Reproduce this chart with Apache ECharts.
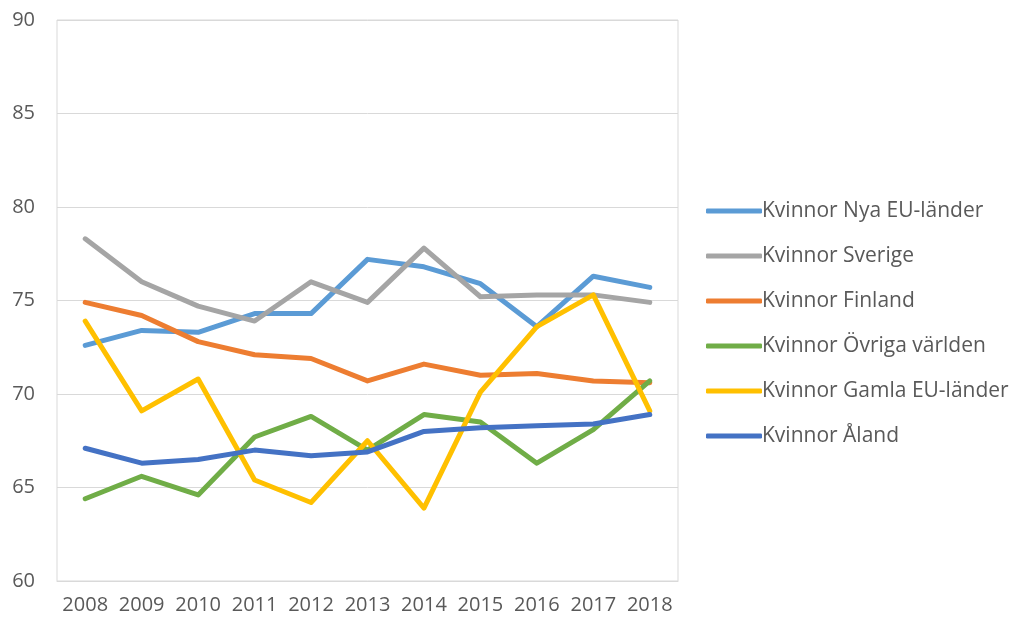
<!DOCTYPE html>
<html>
<head>
<meta charset="utf-8">
<script src="https://cdn.jsdelivr.net/npm/echarts@6/dist/echarts.min.js"></script>
<style>
  html, body { margin: 0; padding: 0; background: #fff; }
  #chart { width: 1017px; height: 625px; }
</style>
</head>
<body>
<div id="chart"></div>
<script>
// years on the x axis
const years = ['2008', '2009', '2010', '2011', '2012', '2013', '2014', '2015', '2016', '2017', '2018'];

// values
const nyaEu = [72.6, 73.4, 73.3, 74.3, 74.3, 77.2, 76.8, 75.9, 73.6, 76.3, 75.7];
const sverige = [78.3, 76.0, 74.7, 73.9, 76.0, 74.9, 77.8, 75.2, 75.3, 75.3, 74.9];
const finland = [74.9, 74.2, 72.8, 72.1, 71.9, 70.7, 71.6, 71.0, 71.1, 70.7, 70.6];
const ovriga = [64.4, 65.6, 64.6, 67.7, 68.8, 67.0, 68.9, 68.5, 66.3, 68.1, 70.7];
const gamlaEu = [73.9, 69.1, 70.8, 65.4, 64.2, 67.5, 63.9, 70.1, 73.6, 75.3, 69.1];
const aland = [67.1, 66.3, 66.5, 67.0, 66.7, 66.9, 68.0, 68.2, 68.3, 68.4, 68.9];

const seriesNames = ['Kvinnor Nya EU-länder', 'Kvinnor Sverige', 'Kvinnor Finland',
  'Kvinnor Övriga världen', 'Kvinnor Gamla EU-länder', 'Kvinnor Åland'];
const seriesData = [nyaEu, sverige, finland, ovriga, gamlaEu, aland];
const colors = ['#5B9BD5', '#A5A5A5', '#ED7D31', '#70AD47', '#FFC000', '#4472C4'];

const font = '"Open Sans", sans-serif';
const chart = echarts.init(document.getElementById('chart'));

chart.setOption({
  animation: false,
  color: colors,
  grid: {
    left: 57, right: 339, top: 20, bottom: 44,
    show: true, borderColor: '#D9D9D9', borderWidth: 1
  },
  legend: {
    orient: 'vertical',
    left: 701,
    top: 193,
    icon: 'roundRect',
    itemWidth: 56,
    itemHeight: 5,
    itemGap: 19,
    data: seriesNames,
    textStyle: { color: '#595959', fontSize: 21, fontFamily: font, lineHeight: 26, padding: [0, 0, 0, -5] }
  },
  xAxis: {
    type: 'category',
    data: years,
    boundaryGap: true,
    axisLine: { lineStyle: { color: '#D9D9D9', width: 1 } },
    axisTick: { show: false },
    axisLabel: { color: '#595959', fontSize: 20, fontFamily: font, margin: 14, interval: 0, hideOverlap: false }
  },
  yAxis: {
    type: 'value',
    min: 60, max: 90, interval: 5,
    axisLine: { show: false },
    axisTick: { show: false },
    axisLabel: { color: '#595959', fontSize: 20, fontFamily: font, margin: 22 },
    splitLine: { lineStyle: { color: '#D9D9D9', width: 1 } }
  },
  series: seriesData.map((d, i) => ({
    name: seriesNames[i],
    type: 'line',
    data: d,
    showSymbol: false,
    symbol: 'none',
    lineStyle: { width: 5, cap: 'round', join: 'round' }
  }))
});
</script>
</body>
</html>
